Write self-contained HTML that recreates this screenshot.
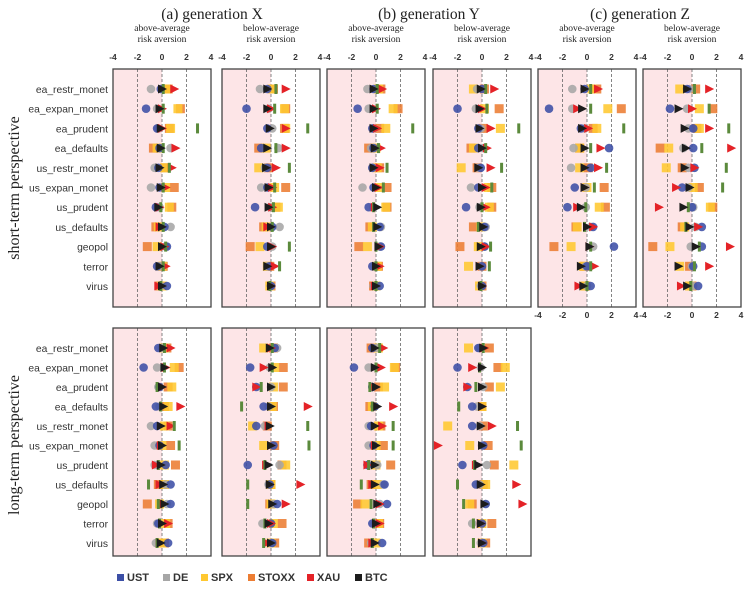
<!DOCTYPE html>
<html><head><meta charset="utf-8">
<style>
html,body{margin:0;padding:0;background:#fff;}
svg{display:block;}
.ser{font-family:"Liberation Serif",serif;fill:#222;}
.san{font-family:"Liberation Sans",sans-serif;fill:#333;}
</style></head>
<body>
<svg id="chart" width="744" height="592" viewBox="0 0 744 592" xmlns="http://www.w3.org/2000/svg"></svg>
<script>
const categories = ["ea_restr_monet","ea_expan_monet","ea_prudent","ea_defaults","us_restr_monet","us_expan_monet","us_prudent","us_defaults","geopol","terror","virus"];
const seriesNames = ["UST","DE","SPX","STOXX","XAU","BTC"];
const xTicks = [-4,-2,0,2,4];

const genXAboveShort = {UST:[-0.1,-1.3,-0.4,-0.2,-0.3,-0.2,-0.5,0.2,0.4,-0.4,0.4],DE:[-0.9,-0.4,-0.3,0.7,-0.6,-0.9,-0.2,0.7,0.3,-0.1,-0.1],SPX:[0.4,1.3,0.7,-0.4,0.2,0.3,0.6,-0.3,-0.4,0,0],STOXX:[0.5,1.5,0.6,-0.7,0.3,1.0,0.8,-0.5,-1.2,0.1,-0.2],XAU:[1.0,0,0,1.1,0.8,0.3,-0.2,-0.2,0.2,0.3,-0.3],BTC:[0,-0.2,-0.1,-0.1,-0.2,-0.1,-0.3,0,0,-0.2,0],G:[0.1,0.1,2.9,0.1,0.6,0.1,-0.1,0.1,0.3,0.1,-0.1]};
const genXBelowShort = {UST:[-0.3,-2.0,-0.3,-0.8,-0.3,-0.3,-1.3,0.1,-0.3,-0.1,0],DE:[-0.9,-0.2,0.1,0.6,-0.5,-0.8,-0.1,0.7,0.1,-0.3,0],SPX:[0.1,1.1,1.2,-0.4,-1.0,0.3,0.6,-0.4,-0.9,-0.3,-0.1],STOXX:[0.2,1.2,1.1,-1.0,-0.2,1.2,0.4,-0.6,-1.7,-0.1,0],XAU:[1.2,0,1.2,1.2,0.4,0.1,0.1,-0.3,0.1,0.3,0],BTC:[-0.3,-0.3,-0.1,-0.3,-0.4,-0.2,-0.2,0,0,-0.3,0],G:[0.4,0.3,3.0,0.4,1.5,0.3,0.2,0.1,1.5,0.7,-0.1]};
const genYAboveShort = {UST:[-0.2,-1.5,-0.3,-0.2,-0.3,-0.2,-0.6,0.3,0.4,-0.3,0.3],DE:[-0.7,-0.6,-0.2,-0.4,-0.3,-1.1,-0.2,0.4,0.3,-0.1,-0.2],SPX:[0.2,1.4,0.8,0,0.1,0.3,0.8,-0.3,-0.7,0.1,0],STOXX:[0.4,1.8,0.3,-0.6,0.3,0.9,0.9,-0.5,-1.4,0.2,-0.2],XAU:[0.5,0,0.1,0.4,0.3,0.2,-0.1,0,0.3,0.3,-0.1],BTC:[-0.2,-0.2,-0.2,-0.1,-0.2,0,0.1,0.1,0.2,0,0],G:[0.1,0.1,3.0,0.2,0.9,0.6,-0.2,-0.2,0,0,0]};
const genYBelowShort = {UST:[0,-2.0,-0.3,-0.3,-0.1,-0.3,-1.3,0.2,0.2,0,0],DE:[-0.4,-0.5,-0.1,0.1,-0.3,-0.9,-0.2,0.3,0.2,-0.1,-0.1],SPX:[-0.7,0.2,1.5,-0.7,-1.7,0.5,0.6,-0.1,-0.3,-1.1,-0.2],STOXX:[0.2,1.4,0.1,-0.9,-0.4,0.8,0.8,-0.7,-1.8,0,0],XAU:[1.0,0,0.7,0.4,0.7,0.3,0.3,0,0.3,-0.2,0],BTC:[-0.1,-0.2,-0.2,0,-0.3,0,-0.1,0.1,-0.1,-0.2,0],G:[0.3,0.4,3.0,0.3,1.6,0.8,0,-0.3,0.7,0.6,-0.1]};
const genZAboveShort = {UST:[-0.2,-3.1,-0.5,1.8,0.3,-1.0,-1.6,0.5,2.2,0,0.3],DE:[-1.2,-1.2,-0.2,-1.1,-1.3,-0.1,-0.1,0.3,0.5,-0.1,0],SPX:[0.4,1.7,0.8,-0.6,-0.6,0,1.0,-0.8,-1.3,-0.3,-0.2],STOXX:[0.8,2.8,0.5,-0.6,0.1,1.4,1.5,-0.9,-2.7,-0.2,-0.1],XAU:[0.9,-0.8,0.1,1.1,0.9,-0.2,-0.8,0.5,0.2,0.6,-0.7],BTC:[-0.2,-0.4,-0.4,-0.2,-0.2,-0.2,-0.5,0,0.2,-0.5,-0.3],G:[0.3,0.3,3.0,0.3,1.6,0.6,-0.1,-0.2,0.3,0.3,0]};
const genZBelowShort = {UST:[-0.4,-1.8,0.1,0.1,0.2,-0.8,0,0.8,0.8,0.1,0.5],DE:[-0.2,-0.4,-0.3,-0.7,-0.3,-0.3,0.1,0.3,-0.1,0,0.1],SPX:[-1.0,0.6,0.6,-1.9,-2.1,0.1,1.5,-0.6,-1.8,-1.0,-0.2],STOXX:[0.3,1.7,0.4,-2.6,-0.8,0.6,1.7,-0.8,-3.2,-0.2,0],XAU:[1.4,0,1.4,3.2,0.2,-1.3,-2.7,0.5,3.1,1.4,-0.9],BTC:[-0.4,-1.1,-0.6,-0.5,-0.6,-0.2,-0.7,-0.2,0.3,-1.1,-0.4],G:[0.2,1.4,3.0,0.8,2.8,2.5,-0.3,-0.5,0.6,0.2,-0.1]};
const genXAboveLong = {UST:[-0.3,-1.5,-0.2,-0.5,-0.4,-0.2,0.3,0.7,0.7,-0.3,0.5],DE:[0,-0.4,-0.3,-0.2,-0.9,-0.6,-0.6,0.3,0.4,-0.4,-0.5],SPX:[0.2,1.0,0.8,0.5,0.2,0,0.2,0.2,-0.2,0.3,0],STOXX:[0.4,1.4,0.5,0.2,0.5,0.7,1.1,-0.3,-1.2,0.5,0.2],XAU:[0.7,0.3,0,1.5,0.7,-0.1,-0.5,-0.2,0.1,0.5,-0.2],BTC:[0.1,0.2,0,0.1,-0.1,0,-0.1,0.1,0.2,0,-0.1],G:[0.2,0.2,-0.4,-0.1,1.0,1.4,-0.3,-1.1,-0.3,-0.2,-0.4]};
const genXBelowLong = {UST:[0.3,-1.7,-1.2,-0.6,-1.2,0.2,-1.9,-0.1,0.5,0,0.1],DE:[0.5,-0.1,0,-0.2,-0.5,0.1,0.7,-0.2,0.2,-0.7,0],SPX:[-0.6,0.3,0.2,0.1,-1.5,-0.6,1.2,0,0,0.2,0],STOXX:[0.2,1.0,1.0,0.2,-0.3,0.3,0.9,0,-0.1,0.9,0.3],XAU:[0,-0.6,-1.2,3.0,-0.2,0,-0.4,2.4,1.2,0,-0.3],BTC:[-0.1,0.1,0,0,-0.1,0,-0.2,-0.1,0.1,-0.2,0],G:[0.1,0.1,-0.8,-2.4,3.0,3.1,-0.5,-1.9,-1.9,-0.5,-0.6]};
const genYAboveLong = {UST:[-0.3,-1.8,-0.3,-0.1,-0.4,-0.2,-0.7,0.7,0.9,-0.3,0.5],DE:[0.1,-0.6,-0.3,-0.1,-0.6,-0.6,0.1,0.6,0.3,-0.1,-0.4],SPX:[0.2,1.5,0.7,-0.3,0.2,0,0,0.1,-0.9,0.2,0],STOXX:[-0.4,1.6,0.2,-0.5,0.4,0.6,1.2,-0.4,-1.5,0.3,-0.6],XAU:[0.6,0.4,-0.2,1.4,0.5,-0.1,-0.7,-0.3,0.3,0.3,-0.3],BTC:[-0.1,-0.1,0,0.1,-0.1,0,-0.1,-0.1,0.1,0,-0.1],G:[0.3,0,-0.5,-0.3,1.4,1.4,-0.6,-1.2,-0.4,-0.2,-0.3]};
const genYBelowLong = {UST:[-0.3,-2.0,-1.2,-0.8,-0.8,0.1,-1.6,-0.5,0.3,0,0.1],DE:[-0.2,-0.1,0.1,-0.4,-0.2,0,0.4,-0.2,0.3,-0.8,-0.1],SPX:[-1.1,1.9,1.5,0,-2.8,-1.0,2.6,0.3,-1.0,0,0],STOXX:[0.6,1.3,0.6,0,0.1,0.5,1.0,0.1,-0.8,0.8,0.3],XAU:[0.2,-0.8,-1.2,0,0.8,-3.6,-0.5,2.8,3.3,-0.1,0],BTC:[0.1,0,0,0,-0.1,0,-0.3,-0.1,0.2,-0.1,0],G:[0.1,-0.2,-0.5,-1.9,2.9,3.2,-0.6,-2.0,-1.5,-0.7,-0.7]};

const NS = "http://www.w3.org/2000/svg";
const svg = document.getElementById('chart');
function el(tag, attrs, parent, text){
  const e = document.createElementNS(NS, tag);
  for (const k in attrs) e.setAttribute(k, attrs[k]);
  if (text !== undefined) e.textContent = text;
  (parent || svg).appendChild(e);
  return e;
}
const colors = {UST:"#3c4fa6",DE:"#a6a6a6",SPX:"#ffc830",STOXX:"#ec7d33",XAU:"#e42227",BTC:"#1c1c1c",G:"#5b8a3c"};

const PW = 98;
const panels = [
  {id:"gen-x-above-short", d:genXAboveShort, x:113, y:69, h:238, r0:89, rs:19.7},
  {id:"gen-x-below-short", d:genXBelowShort, x:222, y:69, h:238, r0:89, rs:19.7},
  {id:"gen-y-above-short", d:genYAboveShort, x:327, y:69, h:238, r0:89, rs:19.7},
  {id:"gen-y-below-short", d:genYBelowShort, x:433, y:69, h:238, r0:89, rs:19.7},
  {id:"gen-z-above-short", d:genZAboveShort, x:538, y:69, h:238, r0:89, rs:19.7},
  {id:"gen-z-below-short", d:genZBelowShort, x:643, y:69, h:238, r0:89, rs:19.7},
  {id:"gen-x-above-long", d:genXAboveLong, x:113, y:328, h:228, r0:348, rs:19.5},
  {id:"gen-x-below-long", d:genXBelowLong, x:222, y:328, h:228, r0:348, rs:19.5},
  {id:"gen-y-above-long", d:genYAboveLong, x:327, y:328, h:228, r0:348, rs:19.5},
  {id:"gen-y-below-long", d:genYBelowLong, x:433, y:328, h:228, r0:348, rs:19.5}
];

function drawMarker(g, s, cx, cy){
  let m;
  if (s === "UST" || s === "DE") {
    m = el('circle', {cx:cx, cy:cy, r:4.3, fill:colors[s], 'fill-opacity':0.88}, g);
  } else if (s === "SPX" || s === "STOXX") {
    m = el('rect', {x:cx-4.5, y:cy-4.5, width:9, height:9, fill:colors[s], 'fill-opacity':0.88}, g);
  } else if (s === "XAU" || s === "BTC") {
    m = el('polygon', {points:(cx-4)+","+(cy-4.5)+" "+(cx+5)+","+cy+" "+(cx-4)+","+(cy+4.5), fill:colors[s]}, g);
  } else {
    m = el('rect', {x:cx-1.5, y:cy-5, width:3, height:10, fill:colors[s]}, g);
  }
  
  
}

const drawOrder = ["STOXX","SPX","DE","UST","XAU","G","BTC"];
panels.forEach(p => {
  const g = el('g', {});
  
  
  const xs = v => p.x + PW/2 + v * (PW/8);
  const ys = i => p.r0 + i * p.rs;
  const bg = el('rect', {x:p.x, y:p.y, width:xs(0)-p.x, height:p.h, fill:"#fde5e7"}, g);
  
  
  [-2,0,2].forEach(t => {
    const l = el('line', {x1:xs(t), x2:xs(t), y1:p.y, y2:p.y+p.h, stroke:"#666", 'stroke-width':0.8, 'stroke-dasharray':"3,2"}, g);
    
    
  });
  drawOrder.forEach(s => {
    p.d[s].forEach((v, i) => drawMarker(g, s, xs(v), ys(i)));
  });
  const fr = el('rect', {x:p.x, y:p.y, width:PW, height:p.h, fill:"none", stroke:"#444", 'stroke-width':1.3}, g);
  
  
});

function tickRow(px, y){
  xTicks.forEach(t => {
    const tx = el('text', {x:px + PW/2 + t*(PW/8), y:y, 'text-anchor':'middle', 'font-size':8.5, 'font-weight':'bold', class:'san', fill:'#333'}, svg, String(t));
    
    
  });
}
panels.slice(0,6).forEach(p => tickRow(p.x, 60));
tickRow(538, 318); tickRow(643, 318);

function rowLabels(r0, rs){
  categories.forEach((c, i) => {
    const t = el('text', {x:108, y:r0 + i*rs + 4, 'text-anchor':'end', 'font-size':10.3, class:'san'}, svg, c);
    
    
  });
}
rowLabels(89, 19.7); rowLabels(348, 19.5);

[["(a) generation X",212],["(b) generation Y",429],["(c) generation Z",640]].forEach(a => {
  const t = el('text', {x:a[1], y:19, 'text-anchor':'middle', 'font-size':15.5, class:'ser'}, svg, a[0]);
  
  
});
panels.slice(0,6).forEach((p, i) => {
  const l1 = i % 2 === 0 ? "above-average" : "below-average";
  const a = el('text', {x:p.x+PW/2, y:31, 'text-anchor':'middle', 'font-size':9.5, class:'ser'}, svg, l1);
  
  
  const b = el('text', {x:p.x+PW/2, y:42, 'text-anchor':'middle', 'font-size':9.5, class:'ser'}, svg, "risk aversion");
  
  
});
[["short-term perspective",188],["long-term perspective",445]].forEach(a => {
  const t = el('text', {x:0, y:0, transform:"translate(19,"+a[1]+") rotate(-90)", 'text-anchor':'middle', 'font-size':16, class:'ser'}, svg, a[0]);
  
  
});

const legendX = [117,163,201,248,307,355];
seriesNames.forEach((s, i) => {
  const g = el('g', {});
  
  
  el('rect', {x:legendX[i], y:574, width:7, height:7, fill:colors[s]}, g);
  el('text', {x:legendX[i]+10, y:581, 'font-size':11, 'font-weight':'bold', class:'san', fill:'#444'}, g, s);
});
</script>
</body></html>
